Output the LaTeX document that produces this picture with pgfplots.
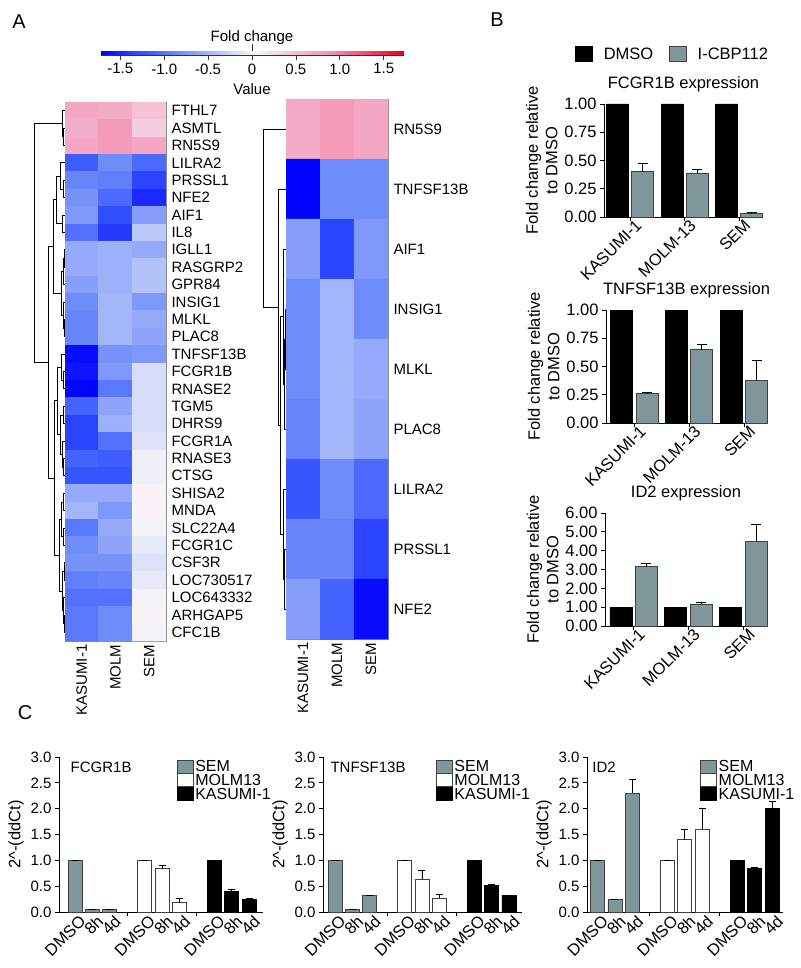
\documentclass[border=0pt]{standalone}
\usepackage{fontspec}
\setmainfont{Liberation Sans}
\usepackage{pgfplots}
\pgfplotsset{compat=1.18}
\definecolor{icbp}{RGB}{127,151,155}

\pgfplotsset{
  colormap={fc}{rgb255=(0,0,255) rgb255=(50,80,255) rgb255=(110,140,250) rgb255=(175,190,250) rgb255=(248,246,248) rgb255=(246,200,218) rgb255=(243,150,182) rgb255=(236,80,118) rgb255=(230,0,30)},
  every axis/.append style={font=\fontsize{15}{17}\selectfont, /pgf/number format/assume math mode=true},
  heat/.style={scale only axis, anchor=north west, enlargelimits=false, y dir=reverse,
    colormap name=fc, point meta min=-1.72, point meta max=1.72,
    xmin=-0.5, xmax=2.5, axis line style={black!45},
    yticklabel pos=right, major tick length=0pt,
    xtick={0,1,2}, xticklabels={KASUMI-1,MOLM,SEM},
    xticklabel style={rotate=90, anchor=east},
    yticklabel style={anchor=west, xshift=2pt}},
  dendro/.style={scale only axis, anchor=north east, hide axis, enlargelimits=false,
    x dir=reverse, y dir=reverse, xmin=0, unbounded coords=jump, clip=false},
  bpan/.style={scale only axis, anchor=north west, clip=false,
    font=\fontsize{16.5}{19.5}\selectfont,
    axis x line*=bottom, axis y line*=left, axis line style={-, line width=0.8pt},
    tick align=outside, major tick length=4pt, tick style={line width=0.8pt, black},
    xtick={0,1,2}, xticklabels={KASUMI-1,MOLM-13,SEM},
    xticklabel style={rotate=45, anchor=north east, inner sep=1pt, xshift=6pt},
    ymin=0, ylabel={Fold change relative\\to DMSO}, ylabel style={align=center},
    yticklabel style={/pgf/number format/.cd, fixed, fixed zerofill, precision=2},
    title style={yshift=3pt}},
  dm/.style={ybar, bar width=22pt, bar shift=0pt, fill=black, draw=black, line width=0.8pt},
  cb/.style={ybar, bar width=22pt, bar shift=0pt, fill=icbp, draw=black!75, line width=0.8pt,
    error bars/y dir=plus, error bars/y explicit,
    error bars/error bar style={line width=0.8pt, black},
    error bars/error mark options={rotate=90, line width=0.8pt, mark size=5pt, black}},
  cpan/.style={scale only axis, anchor=north west, clip=false,
    axis x line*=bottom, axis y line*=left, axis line style={-, line width=0.8pt},
    tick align=outside, major tick length=4pt, tick style={line width=0.8pt, black},
    xtick={0,1,2,4,5,6,8,9,10}, xticklabels={DMSO,8h,4d,DMSO,8h,4d,DMSO,8h,4d},
    xtick style={draw=none},
    extra x ticks={3,7}, extra x tick labels={}, extra x tick style={xtick style={draw=black}},
    xticklabel style={rotate=45, anchor=north east, inner sep=1pt, xshift=5pt,
      font=\fontsize{16.5}{18}\selectfont},
    ymin=0, ymax=3, ytick={0,0.5,...,3},
    yticklabel style={/pgf/number format/.cd, fixed, fixed zerofill, precision=1},
    ylabel={2\textasciicircum-(ddCt)}, ylabel style={font=\fontsize{16.5}{18}\selectfont},
    legend cell align=left,
    legend style={draw=none, fill=none, inner sep=0pt, row sep=-3pt,
      font=\fontsize{16}{16}\selectfont}},
  cbar/.style={ybar, bar width=14pt, bar shift=0pt, line width=0.8pt,
    error bars/y dir=plus, error bars/y explicit,
    error bars/error bar style={line width=0.8pt, black},
    error bars/error mark options={rotate=90, line width=0.8pt, mark size=3.5pt, black}},
  sq/.style={legend image code/.code={\draw[##1] (0pt,-6pt) rectangle (16pt,7pt);}},
  sqb/.style={legend image code/.code={\draw[##1] (0pt,-7pt) rectangle (17pt,8pt); \path[draw=none, fill=none] (0pt,0pt) -- (26pt,0pt);}}
}

\begin{document}
\begin{tikzpicture}
\path[use as bounding box] (0,0) rectangle (800pt,-968pt);

% panel letters
\node[font=\fontsize{20}{22}\selectfont] at (19pt,-22pt) {A};
\node[font=\fontsize{20}{22}\selectfont] at (497pt,-20pt) {B};
\node[font=\fontsize{20}{22}\selectfont] at (25pt,-713pt) {C};

% colour bar
\begin{axis}[scale only axis, at={(101pt,-51pt)}, anchor=north west,
  width=302pt, height=4pt, xmin=-1.72, xmax=1.72, ymin=0, ymax=1,
  enlargelimits=false, ytick=\empty,
  xtick={-1.5,-1,-0.5,0,0.5,1,1.5}, xticklabels={-1.5,-1.0,-0.5,0,0.5,1.0,1.5},
  xtick pos=bottom, tick align=outside, major tick length=5pt,
  tick style={black!80, line width=0.6pt},
  extra x ticks={0}, extra x tick labels={}, extra x tick style={xtick pos=top, major tick length=7pt},
  axis line style={black!80, line width=0.6pt},
  colormap name=fc, point meta min=-1.72, point meta max=1.72,
  title={Fold change}, title style={yshift=-3pt},
  xlabel={Value}, xlabel style={yshift=9pt}]
\addplot[surf, shader=interp, mesh/cols=9, point meta=x] coordinates {
(-1.72,0) (-1.29,0) (-0.86,0) (-0.43,0) (0,0) (0.43,0) (0.86,0) (1.29,0) (1.72,0)
(-1.72,1) (-1.29,1) (-0.86,1) (-0.43,1) (0,1) (0.43,1) (0.86,1) (1.29,1) (1.72,1)};
\end{axis}

% left heatmap
\begin{axis}[heat, at={(65pt,-102pt)}, width=101pt, height=539pt,
  ymin=-0.5, ymax=30.5, ytick={0,...,30},
  yticklabels={FTHL7,ASMTL,RN5S9,LILRA2,PRSSL1,NFE2,AIF1,IL8,IGLL1,RASGRP2,GPR84,INSIG1,MLKL,PLAC8,TNFSF13B,FCGR1B,RNASE2,TGM5,DHRS9,FCGR1A,RNASE3,CTSG,SHISA2,MNDA,SLC22A4,FCGR1C,CSF3R,LOC730517,LOC643332,ARHGAP5,CFC1B}]
\addplot[matrix plot*, mesh/cols=3, point meta=explicit] table[meta=c] {
x y c
0 0 0.72
1 0 0.68
2 0 0.48
0 1 0.66
1 1 0.82
2 1 0.38
0 2 0.72
1 2 0.82
2 2 0.72
0 3 -1.20
1 3 -0.85
2 3 -1.10
0 4 -0.90
1 4 -0.95
2 4 -1.35
0 5 -0.80
1 5 -1.10
2 5 -1.50
0 6 -0.75
1 6 -1.30
2 6 -0.70
0 7 -1.05
1 7 -1.40
2 7 -0.35
0 8 -0.60
1 8 -0.55
2 8 -0.60
0 9 -0.60
1 9 -0.55
2 9 -0.40
0 10 -0.70
1 10 -0.55
2 10 -0.40
0 11 -0.85
1 11 -0.50
2 11 -0.75
0 12 -0.90
1 12 -0.50
2 12 -0.60
0 13 -0.90
1 13 -0.50
2 13 -0.65
0 14 -1.65
1 14 -0.80
2 14 -0.75
0 15 -1.60
1 15 -0.75
2 15 -0.20
0 16 -1.70
1 16 -1.00
2 16 -0.20
0 17 -1.15
1 17 -0.65
2 17 -0.20
0 18 -1.35
1 18 -0.55
2 18 -0.20
0 19 -1.35
1 19 -1.05
2 19 -0.15
0 20 -1.15
1 20 -1.20
2 20 -0.05
0 21 -1.25
1 21 -1.25
2 21 -0.05
0 22 -0.60
1 22 -0.60
2 22 0.03
0 23 -0.50
1 23 -0.75
2 23 0.03
0 24 -1.00
1 24 -0.60
2 24 -0.02
0 25 -0.85
1 25 -0.65
2 25 -0.10
0 26 -0.80
1 26 -0.80
2 26 -0.15
0 27 -0.95
1 27 -0.90
2 27 -0.10
0 28 -1.05
1 28 -1.05
2 28 -0.02
0 29 -1.00
1 29 -0.85
2 29 0.03
0 30 -1.00
1 30 -0.85
2 30 -0.02
};
\end{axis}

% left dendrogram
\begin{axis}[dendro, at={(65pt,-102pt)}, width=34pt, height=539pt,
  xmax=34, ymin=-0.5, ymax=30.5]
\addplot[black, line width=0.8pt, mark=none] coordinates {
(0,1) (1.5,1) (1.5,2) (0,2) (nan,nan)
(0,0) (3,0) (3,1.5) (1.5,1.5) (nan,nan)
(0,4) (1.5,4) (1.5,5) (0,5) (nan,nan)
(0,3) (5,3) (5,4.5) (1.5,4.5) (nan,nan)
(0,6) (3,6) (3,7) (0,7) (nan,nan)
(5,3.75) (9,3.75) (9,6.5) (3,6.5) (nan,nan)
(0,8) (1,8) (1,9) (0,9) (nan,nan)
(1,8.5) (1.5,8.5) (1.5,10) (0,10) (nan,nan)
(0,12) (1,12) (1,13) (0,13) (nan,nan)
(0,11) (2,11) (2,12.5) (1,12.5) (nan,nan)
(1.5,9.25) (4,9.25) (4,11.75) (2,11.75) (nan,nan)
(9,5.13) (12,5.13) (12,10.5) (4,10.5) (nan,nan)
(0,15) (1.5,15) (1.5,16) (0,16) (nan,nan)
(0,14) (4,14) (4,15.5) (1.5,15.5) (nan,nan)
(0,17) (1.5,17) (1.5,18) (0,18) (nan,nan)
(0,20) (1.5,20) (1.5,21) (0,21) (nan,nan)
(0,19) (2.5,19) (2.5,20.5) (1.5,20.5) (nan,nan)
(1.5,17.5) (5,17.5) (5,19.75) (2.5,19.75) (nan,nan)
(4,14.75) (8,14.75) (8,18.63) (5,18.63) (nan,nan)
(0,22) (1.5,22) (1.5,23) (0,23) (nan,nan)
(0,24) (1.5,24) (1.5,25) (0,25) (nan,nan)
(1.5,22.5) (4,22.5) (4,24.5) (1.5,24.5) (nan,nan)
(0,26) (1,26) (1,27) (0,27) (nan,nan)
(0,29) (1,29) (1,30) (0,30) (nan,nan)
(0,28) (2,28) (2,29.5) (1,29.5) (nan,nan)
(1,26.5) (3,26.5) (3,28.75) (2,28.75) (nan,nan)
(4,23.5) (5.5,23.5) (5.5,27.63) (3,27.63) (nan,nan)
(8,16.69) (11,16.69) (11,25.56) (5.5,25.56) (nan,nan)
(12,7.81) (17,7.81) (17,21.13) (11,21.13) (nan,nan)
(3,0.75) (31,0.75) (31,14.47) (17,14.47)
};
\end{axis}

% right heatmap
\begin{axis}[heat, at={(286pt,-99pt)}, width=102pt, height=540pt,
  ymin=-0.5, ymax=8.5, ytick={0,...,8},
  yticklabels={RN5S9,TNFSF13B,AIF1,INSIG1,MLKL,PLAC8,LILRA2,PRSSL1,NFE2}]
\addplot[matrix plot*, mesh/cols=3, point meta=explicit] table[meta=c] {
x y c
0 0 0.68
1 0 0.82
2 0 0.72
0 1 -1.70
1 1 -0.85
2 1 -0.85
0 2 -0.70
1 2 -1.35
2 2 -0.75
0 3 -0.85
1 3 -0.50
2 3 -0.85
0 4 -0.85
1 4 -0.50
2 4 -0.60
0 5 -0.90
1 5 -0.50
2 5 -0.65
0 6 -1.25
1 6 -0.85
2 6 -1.10
0 7 -0.90
1 7 -0.90
2 7 -1.35
0 8 -0.70
1 8 -1.15
2 8 -1.65
};
\end{axis}

% right dendrogram
\begin{axis}[dendro, at={(286pt,-99pt)}, width=24pt, height=540pt,
  xmax=24, ymin=-0.5, ymax=8.5]
\addplot[black, line width=0.8pt, mark=none] coordinates {
(0,3) (1,3) (1,4) (0,4) (nan,nan)
(1,3.5) (1.5,3.5) (1.5,5) (0,5) (nan,nan)
(0,2) (3,2) (3,4.25) (1.5,4.25) (nan,nan)
(0,7) (2,7) (2,8) (0,8) (nan,nan)
(0,6) (3,6) (3,7.5) (2,7.5) (nan,nan)
(3,3.13) (6,3.13) (6,6.75) (3,6.75) (nan,nan)
(0,1) (8,1) (8,4.94) (6,4.94) (nan,nan)
(0,0) (23,0) (23,2.97) (8,2.97)
};
\end{axis}

% B: FCGR1B
\begin{axis}[bpan, at={(604pt,-104pt)}, width=159pt, height=113pt,
  xmin=-0.48, xmax=2.44, ymax=1, ytick={0,0.25,...,1},
  title={FCGR1B expression},
  legend columns=2,
  legend style={draw=none, fill=none, at={(-0.2,1.44)}, anchor=west,
    /tikz/every even column/.append style={column sep=14pt}}]
\addplot[dm, sqb] coordinates {(-0.23,1) (0.77,1) (1.77,1)};
\addplot[cb, sqb] coordinates {(0.23,0.40) +- (0,0.07) (1.23,0.39) +- (0,0.03) (2.23,0.03) +- (0,0.015)};
\legend{DMSO, I-CBP112}
\end{axis}

% B: TNFSF13B
\begin{axis}[bpan, at={(606pt,-310pt)}, width=161pt, height=113pt,
  xmin=-0.52, xmax=2.42, ymax=1, ytick={0,0.25,...,1},
  title={TNFSF13B expression}]
\addplot[dm] coordinates {(-0.23,1) (0.77,1) (1.77,1)};
\addplot[cb] coordinates {(0.23,0.26) +- (0,0.015) (1.23,0.65) +- (0,0.05) (2.23,0.38) +- (0,0.17)};
\end{axis}

% B: ID2
\begin{axis}[bpan, at={(605pt,-513pt)}, width=162pt, height=113pt,
  xmin=-0.52, xmax=2.43, ymax=6, ytick={0,1,...,6},
  title={ID2 expression}]
\addplot[dm] coordinates {(-0.23,1) (0.77,1) (1.77,1)};
\addplot[cb] coordinates {(0.23,3.15) +- (0,0.15) (1.23,1.15) +- (0,0.08) (2.23,4.47) +- (0,0.92)};
\end{axis}

% C: FCGR1B
\begin{axis}[cpan, at={(59pt,-757pt)}, width=204pt, height=155pt,
  xmin=-0.92, xmax=10.8, legend style={at={(0.575,0.99)}, anchor=north west}]
\addplot[cbar, sq, fill=icbp, draw=black!75] coordinates {(0,1) +- (0,0) (1,0.05) +- (0,0.01) (2,0.05) +- (0,0.01)};
\addplot[cbar, sq, fill=white, draw=black!75] coordinates {(4,1) +- (0,0) (5,0.84) +- (0,0.07) (6,0.18) +- (0,0.08)};
\addplot[cbar, sq, fill=black, draw=black] coordinates {(8,1) +- (0,0) (9,0.39) +- (0,0.04) (10,0.25) +- (0,0.01)};
\legend{SEM,MOLM13,KASUMI-1}
\node[anchor=west] at (rel axis cs:0.04,0.935) {FCGR1B};
\end{axis}

% C: TNFSF13B
\begin{axis}[cpan, at={(323pt,-757pt)}, width=199pt, height=155pt,
  xmin=-0.69, xmax=10.75, legend style={at={(0.565,0.99)}, anchor=north west}]
\addplot[cbar, sq, fill=icbp, draw=black!75] coordinates {(0,1) +- (0,0) (1,0.05) +- (0,0.01) (2,0.32) +- (0,0.01)};
\addplot[cbar, sq, fill=white, draw=black!75] coordinates {(4,1) +- (0,0) (5,0.64) +- (0,0.16) (6,0.27) +- (0,0.08)};
\addplot[cbar, sq, fill=black, draw=black] coordinates {(8,1) +- (0,0) (9,0.52) +- (0,0.01) (10,0.32) +- (0,0.01)};
\legend{SEM,MOLM13,KASUMI-1}
\node[anchor=west] at (rel axis cs:0.02,0.935) {TNFSF13B};
\end{axis}

% C: ID2
\begin{axis}[cpan, at={(587pt,-757pt)}, width=196pt, height=155pt,
  xmin=-0.6, xmax=10.63, legend style={at={(0.575,0.99)}, anchor=north west}]
\addplot[cbar, sq, fill=icbp, draw=black!75] coordinates {(0,1) +- (0,0) (1,0.24) +- (0,0.01) (2,2.3) +- (0,0.26)};
\addplot[cbar, sq, fill=white, draw=black!75] coordinates {(4,1) +- (0,0) (5,1.4) +- (0,0.2) (6,1.6) +- (0,0.4)};
\addplot[cbar, sq, fill=black, draw=black] coordinates {(8,1) +- (0,0) (9,0.85) +- (0,0.01) (10,2.0) +- (0,0.14)};
\legend{SEM,MOLM13,KASUMI-1}
\node[anchor=west] at (rel axis cs:0.01,0.935) {ID2};
\end{axis}
\end{tikzpicture}
\end{document}
